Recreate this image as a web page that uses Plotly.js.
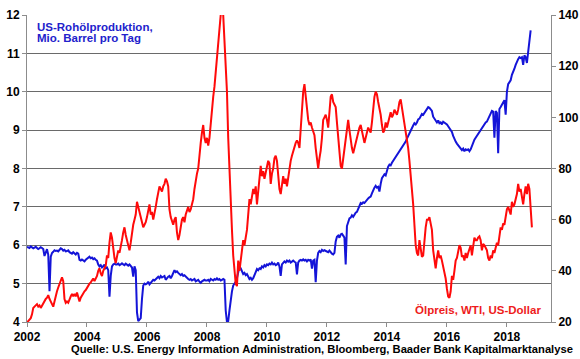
<!DOCTYPE html>
<html>
<head>
<meta charset="utf-8">
<script src="https://cdn.plot.ly/plotly-3.0.1.min.js"></script>
<style>
  html, body { margin: 0; padding: 0; background: #ffffff; }
  #chart { width: 580px; height: 359px; }
</style>
</head>
<body>
<div id="chart"></div>
<script>
// Semi-monthly samples (24 per year) starting January 2002
const START_YEAR = 2002;
const SAMPLES_PER_YEAR = 24;

// US crude oil production, million barrels per day (left axis)
const prod2002 = [5.96,5.95,5.93,5.97,5.95,5.92,5.94,5.96,5.93,5.9,5.92,5.95,5.93,5.9,5.72,5.85,5.9,5.75,4.8,5.7,5.8,5.83,5.87,5.85];
const prod2003 = [5.86,5.84,5.88,5.92,5.9,5.86,5.88,5.84,5.85,5.87,5.82,5.8,5.78,5.82,5.8,5.76,5.8,5.78,5.62,5.6,5.63,5.6,5.58,5.62];
const prod2004 = [5.65,5.68,5.7,5.66,5.68,5.64,5.66,5.62,5.6,5.5,5.45,5.48,5.42,5.45,5.5,5.4,5.42,5.35,4.66,5.2,5.45,5.5,5.52,5.5];
const prod2005 = [5.5,5.52,5.48,5.5,5.53,5.5,5.48,5.52,5.5,5.47,5.5,5.45,5.42,5.18,5.45,5.35,4.25,4.02,4.05,4.1,4.6,4.95,5.0,4.98];
const prod2006 = [5.0,5.05,4.98,5.02,5.05,5.1,5.08,5.12,5.15,5.18,5.14,5.2,5.16,5.18,5.2,5.1,5.15,5.18,5.2,5.14,5.2,5.3,5.35,5.3];
const prod2007 = [5.32,5.28,5.25,5.22,5.25,5.2,5.22,5.18,5.15,5.12,5.1,5.12,5.08,5.1,5.12,5.06,5.08,5.1,5.05,5.02,5.06,5.08,5.1,5.08];
const prod2008 = [5.08,5.1,5.06,5.12,5.1,5.08,5.12,5.1,5.14,5.1,5.12,5.08,5.1,5.12,5.1,4.3,4.0,4.02,4.3,4.6,4.8,4.95,5.0,5.05];
const prod2009 = [5.15,5.3,5.44,5.4,5.3,5.25,5.28,5.22,5.25,5.18,5.12,5.15,5.1,5.14,5.2,5.3,5.38,5.35,5.4,5.38,5.45,5.42,5.48,5.45];
const prod2010 = [5.5,5.48,5.52,5.5,5.55,5.5,5.52,5.48,5.5,5.55,5.45,5.2,5.5,5.55,5.58,5.55,5.6,5.57,5.6,5.55,5.58,5.6,5.57,5.55];
const prod2011 = [5.24,5.55,5.6,5.62,5.6,5.63,5.6,5.62,5.58,5.62,5.6,5.63,5.39,5.6,5.62,5.04,5.6,5.8,5.85,5.82,5.88,5.85,5.87,5.85];
const prod2012 = [5.85,5.82,5.86,5.8,5.78,5.76,5.8,6.1,6.22,6.25,6.2,6.28,6.3,6.25,6.2,5.5,6.5,6.6,6.7,6.72,6.78,6.74,6.8,6.85];
const prod2013 = [6.87,6.95,7.05,7.1,7.08,7.12,7.1,7.15,7.2,7.22,7.25,7.27,7.35,7.45,7.5,7.55,7.5,7.52,7.4,7.6,7.75,7.8,7.85,7.82];
const prod2014 = [7.95,8.05,8.1,8.08,8.15,8.2,8.25,8.3,8.35,8.4,8.45,8.5,8.55,8.6,8.62,8.7,8.78,8.85,8.95,9.0,9.05,9.12,9.18,9.15];
const prod2015 = [9.2,9.28,9.3,9.35,9.42,9.4,9.45,9.5,9.58,9.6,9.58,9.55,9.5,9.35,9.3,9.22,9.2,9.25,9.18,9.2,9.15,9.22,9.2,9.18];
const prod2016 = [9.15,9.1,9.05,9.0,8.95,8.85,8.75,8.7,8.65,8.6,8.55,8.5,8.48,8.52,8.45,8.5,8.48,8.5,8.45,8.5,8.6,8.7,8.75,8.8];
const prod2017 = [8.85,8.9,8.98,9.02,9.05,9.1,9.15,9.2,9.22,9.3,9.35,9.45,9.5,9.48,8.8,9.5,9.45,8.4,9.55,9.6,9.65,9.72,9.78,9.4];
const prod2018 = [10.0,10.2,10.25,10.3,10.44,10.5,10.6,10.7,10.8,10.85,10.9,10.88,10.9,10.7,10.95,10.9,10.75,11.0,11.2,11.6];

// WTI oil price, US dollars (right axis)
const wti2002 = [19.8,20.5,21,21.5,23,25.5,26,26.5,27,26,26.5,25.5,26.5,27,28,29,29.5,30.5,29,28,26.5,26,28,30.5];
const wti2003 = [32,33.5,35,36.5,37.5,36,29,27.5,28,27.5,29,30,31,30,31,30,31.5,29,28,29.5,30.5,31,32,32.5];
const wti2004 = [33.5,34.5,35,35.5,36.5,37,36,37,38,40,41,39,38,40,41,42,46,45,51,55,53,48,45,43];
const wti2005 = [46,48,47,49,52,55,57,54,52,50,48,51,55,58,60,62,67,65,64,61,60,57,58,59];
const wti2006 = [61,64,66,62,63,60,62,65,68,70,73,72,71,73,74,76,75,73,64,61,59,58,60,61];
const wti2007 = [55,52,54,58,60,61,59,62,64,65,63,64,66,68,72,76,78,80,86,90,94,97,92,90];
const wti2008 = [92,89,92,98,105,108,112,118,125,130,135,140,144,140,130,122,110,92,78,65,56,46,40,35];
const wti2009 = [34,44,40,45,49,52,50,53,56,62,68,66,70,72,70,73,66,72,78,81,77,79,76,78];
const wti2010 = [80,83,82,74,78,80,84,85,83,76,72,70,75,77,74,76,73,77,80,83,85,87,89,90];
const wti2011 = [91,90,88,95,104,110,113,108,101,99,97,98,96,94,93,88,83,80,84,87,92,99,100,101];
const wti2012 = [99,96,102,108,109,106,105,104,98,92,86,81,80,84,88,92,96,99,95,91,88,86,88,91];
const wti2013 = [93,95,96,97,95,93,90,92,94,96,95,94,98,104,108,110,109,106,104,101,97,94,95,98];
const wti2014 = [96,98,101,102,100,101,103,102,101,103,106,107,104,100,98,95,92,88,83,78,72,66,58,50];
const wti2015 = [47,46,52,49,45.5,46,52,57,60,60,61,59,56,48,44,41,45,48,45,46,44,42,40,37];
const wti2016 = [33,30,29.5,32,38,36.5,40,44,45,48,50,49,45.5,46,44,47,45,47,49,50,46,50,53,52];
const wti2017 = [52,53,53.5,52,48,50.5,50,49,48,45,44,46,45,48,47,49,51,50,53,57,56,58.5,58,62];
const wti2018 = [64,65,63,62,67,65,66,68,70,74,71,72,69,66,70,73,70,74,72,66,57];

const xTickVals = [2002, 2004, 2006, 2008, 2010, 2012, 2014, 2016, 2018];
const xTickText = ["2002", "2004", "2006", "2008", "2010", "2012", "2014", "2016", "2018"];
const leftTickVals = [4, 5, 6, 7, 8, 9, 10, 11, 12];
const leftTickText = ["4", "5", "6", "7", "8", "9", "10", "11", "12"];
const rightTickVals = [20, 40, 60, 80, 100, 120, 140];
const rightTickText = ["20", "40", "60", "80", "100", "120", "140"];

const labelProduction1 = "US-Rohölproduktion,";
const labelProduction2 = "Mio. Barrel pro Tag";
const labelPrice = "Ölpreis, WTI, US-Dollar";
const sourceText = "Quelle: U.S. Energy Information Administration, Bloomberg, Baader Bank Kapitalmarktanalyse";

const production = [].concat(prod2002, prod2003, prod2004, prod2005, prod2006, prod2007, prod2008, prod2009,
  prod2010, prod2011, prod2012, prod2013, prod2014, prod2015, prod2016, prod2017, prod2018);
const wti = [].concat(wti2002, wti2003, wti2004, wti2005, wti2006, wti2007, wti2008, wti2009,
  wti2010, wti2011, wti2012, wti2013, wti2014, wti2015, wti2016, wti2017, wti2018);

const FONT = "Liberation Sans, Arial, Helvetica, sans-serif";
const bold = s => "<b>" + s + "</b>";

const traces = [
  {
    type: "scatter", mode: "lines", name: "US-Rohölproduktion",
    x0: START_YEAR, dx: 1 / SAMPLES_PER_YEAR, y: production,
    line: { color: "#1414d8", width: 2 },
    yaxis: "y", hoverinfo: "skip"
  },
  {
    type: "scatter", mode: "lines", name: "Ölpreis WTI",
    x0: START_YEAR, dx: 1 / SAMPLES_PER_YEAR, y: wti,
    line: { color: "#ff0a0a", width: 2 },
    yaxis: "y2", hoverinfo: "skip"
  }
];

const tickFont = { family: FONT, size: 12, color: "#000000" };

const layout = {
  width: 580, height: 359,
  margin: { l: 27, r: 29, t: 15, b: 37, pad: 0 },
  paper_bgcolor: "#ffffff", plot_bgcolor: "#ffffff",
  showlegend: false,
  font: { family: FONT, size: 12, color: "#000000" },
  xaxis: {
    range: [2002, 2019.47], tickmode: "array", tickvals: xTickVals, ticktext: xTickText.map(bold),
    showgrid: false, zeroline: false, showline: true, linecolor: "#8c8c8c", linewidth: 1,
    ticks: "outside", ticklen: 4, tickcolor: "#8c8c8c", tickfont: tickFont
  },
  yaxis: {
    range: [4, 12], tickmode: "array", tickvals: leftTickVals, ticktext: leftTickText.map(bold),
    showgrid: true, gridcolor: "#6a6a6a", gridwidth: 1, zeroline: false,
    showline: true, linecolor: "#8c8c8c", linewidth: 1,
    ticks: "outside", ticklen: 4, tickcolor: "#8c8c8c", tickfont: tickFont
  },
  yaxis2: {
    range: [20, 140], tickmode: "array", tickvals: rightTickVals, ticktext: rightTickText.map(bold),
    overlaying: "y", side: "right", showgrid: false, zeroline: false,
    showline: true, linecolor: "#8c8c8c", linewidth: 1,
    ticks: "outside", ticklen: 4, tickcolor: "#8c8c8c", tickfont: tickFont
  },
  annotations: [
    { xref: "paper", yref: "paper", x: 0.0153, y: 0.961, xanchor: "left", yanchor: "middle",
      text: bold(labelProduction1), showarrow: false,
      font: { family: FONT, size: 11.5, color: "#2222cc" } },
    { xref: "paper", yref: "paper", x: 0.0153, y: 0.925, xanchor: "left", yanchor: "middle",
      text: bold(labelProduction2), showarrow: false,
      font: { family: FONT, size: 11.5, color: "#2222cc" } },
    { xref: "paper", yref: "paper", x: 0.9847, y: 0.039, xanchor: "right", yanchor: "middle",
      text: bold(labelPrice), showarrow: false,
      font: { family: FONT, size: 11.5, color: "#ee1c1c" } },
    { xref: "paper", yref: "paper", x: 1.0458, y: -0.088, xanchor: "right", yanchor: "middle",
      text: bold(sourceText), showarrow: false,
      font: { family: FONT, size: 11.2, color: "#000000" } }
  ]
};

Plotly.newPlot("chart", traces, layout, { staticPlot: true, displayModeBar: false });
</script>
</body>
</html>
